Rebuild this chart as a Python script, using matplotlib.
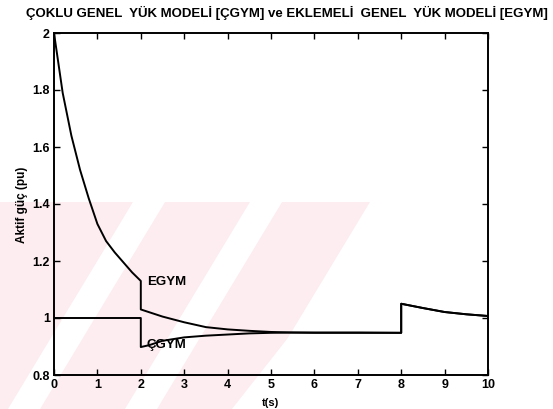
import matplotlib
matplotlib.use("Agg")
import matplotlib.pyplot as plt
from matplotlib.patches import Polygon
from matplotlib.ticker import FormatStrFormatter

plt.rcParams['font.family'] = ['Liberation Sans', 'DejaVu Sans']

# EGYM (additive general load model)
t_egym = [0.0, 0.2, 0.4, 0.6, 0.8, 1.0, 1.2, 1.4, 1.6, 1.8, 2.0,
          2.0, 2.5, 3.0, 3.5, 4.0, 4.5, 5.0, 5.5, 6.0, 7.0, 8.0,
          8.0, 8.5, 9.0, 9.5, 10.0]
p_egym = [2.0, 1.79, 1.64, 1.52, 1.42, 1.33, 1.27, 1.23, 1.195, 1.16, 1.13,
          1.03, 1.005, 0.985, 0.968, 0.96, 0.955, 0.951, 0.949, 0.948, 0.948, 0.948,
          1.05, 1.035, 1.021, 1.013, 1.007]

# CGYM (multiple general load model)
t_cgym = [0.0, 1.0, 2.0,
          2.0, 2.2, 2.5, 3.0, 3.5, 4.0, 4.5, 5.0, 5.5, 6.0, 7.0, 8.0,
          8.0, 8.5, 9.0, 9.5, 10.0]
p_cgym = [1.0, 1.0, 1.0,
          0.898, 0.905, 0.92, 0.932, 0.938, 0.942, 0.946, 0.948, 0.949, 0.949, 0.949, 0.948,
          1.05, 1.035, 1.021, 1.013, 1.007]

xticks = [0, 1, 2, 3, 4, 5, 6, 7, 8, 9, 10]
yticks = [0.8, 1.0, 1.2, 1.4, 1.6, 1.8, 2.0]

W, H = 553, 409
fig = plt.figure(figsize=(W / 100, H / 100), dpi=100)

# faint watermark in the background (pixel coords converted to figure fraction)
def px(x, y):
    return (x / W, 1 - y / H)

pink = '#fdedf0'
wm = Polygon([px(0, 202), px(395, 202), px(232, 409), px(0, 409)],
             closed=True, transform=fig.transFigure, facecolor=pink,
             edgecolor='none', zorder=-2)
fig.patches.append(wm)
for x0 in [8, 125, 245]:
    stripe = Polygon([px(x0, 409), px(x0 + 32, 409), px(x0 + 32 + 125, 202), px(x0 + 125, 202)],
                     closed=True, transform=fig.transFigure, facecolor='white',
                     edgecolor='none', zorder=-1)
    fig.patches.append(stripe)

ax = fig.add_axes([54 / W, 1 - 375 / H, (488 - 54) / W, (375 - 33) / H])
ax.set_zorder(1)
ax.patch.set_alpha(0)

ax.plot(t_egym, p_egym, color='black', lw=1.4)
ax.plot(t_cgym, p_cgym, color='black', lw=1.4)

ax.text(2.15, 1.126, 'EGYM', fontsize=9.5, fontweight='bold', va='center')
ax.text(2.12, 0.905, 'ÇGYM', fontsize=9.5, fontweight='bold', va='center')

ax.set_xlim(0, 10)
ax.set_ylim(0.8, 2.0)
ax.set_xticks(xticks)
ax.set_yticks(yticks)
ax.yaxis.set_major_formatter(FormatStrFormatter('%g'))
ax.tick_params(direction='in', length=4, width=1, top=True, right=True,
               labelsize=9, pad=3)
for lab in ax.get_xticklabels() + ax.get_yticklabels():
    lab.set_fontweight('bold')
for sp in ax.spines.values():
    sp.set_linewidth(1.4)

fig.text(0.5 * (25 + 548) / W, 1 - 13 / H,
         'ÇOKLU GENEL  YÜK MODELİ [ÇGYM] ve EKLEMELİ  GENEL  YÜK MODELİ [EGYM]',
         ha='center', va='center', fontsize=9.5, fontweight='bold')
fig.text(22 / W, 1 - 205 / H, 'Aktif güç (pu)', rotation=90,
         ha='center', va='center', fontsize=8.5, fontweight='bold')
fig.text(271 / W, 1 - 403 / H, 't(s)', ha='center', va='center',
         fontsize=8, fontweight='bold')

fig.savefig('out.png', dpi=100)
